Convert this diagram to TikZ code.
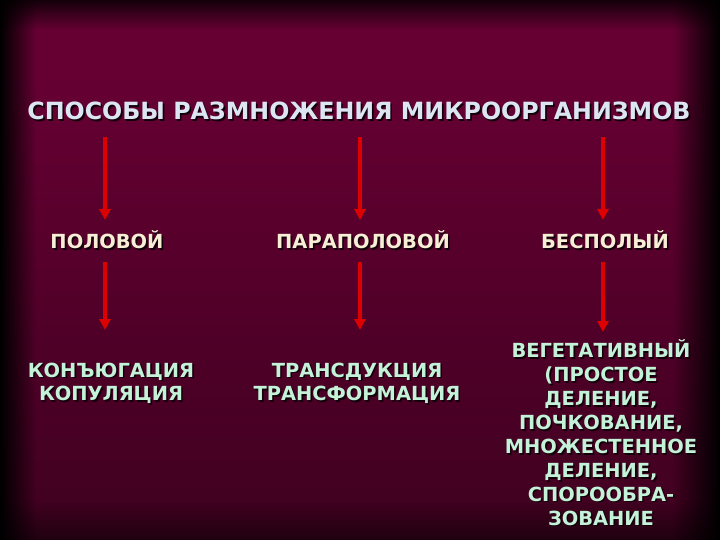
\documentclass[tikz,border=0pt]{standalone}
\usepackage{fontspec}
\setmainfont{DejaVu Sans}
\usetikzlibrary{arrows.meta,fadings}
\definecolor{bgtop}{HTML}{4E0028}
\definecolor{bgmid}{HTML}{660033}
\definecolor{bgmid2}{HTML}{4C0026}
\definecolor{bgbot}{HTML}{2A0514}
\definecolor{titlecol}{HTML}{DCE6F2}
\definecolor{cream}{HTML}{F8EED6}
\definecolor{mint}{HTML}{C4F2D8}
\definecolor{arrowred}{HTML}{DC0000}
\definecolor{shadowcol}{HTML}{14000A}
\pgfdeclareverticalshading{bgshade}{100bp}{color(0bp)=(bgbot); color(40bp)=(bgmid2); color(68bp)=(bgmid); color(88bp)=(bgmid); color(100bp)=(bgtop)}
\tikzset{
  titlefont/.style={font=\bfseries\fontsize{23.8}{28}\selectfont, inner sep=0pt},
  lvlfont/.style={font=\bfseries\fontsize{19.5}{24}\selectfont, inner sep=0pt, align=center},
  arr/.style={draw=arrowred, line width=3.2bp, -{Triangle[length=11bp,width=11bp]}},
}
% text with a dark drop shadow, inside one node
\newcommand\shtxt[2]{%
  \rlap{\hspace{1.6bp}\raisebox{-1.6bp}{\color{shadowcol}\begin{tabular}{@{}c@{}}#2\end{tabular}}}%
  {\color{#1}\begin{tabular}{@{}c@{}}#2\end{tabular}}}
\begin{document}
\begin{tikzpicture}[x=1bp,y=-1bp]
\useasboundingbox (0,0) rectangle (720,540);
\shade[shading=bgshade] (0,0) rectangle (720,540);
\fill[black, path fading=east] (0,0) rectangle (36,540);
\fill[black, path fading=west] (672,0) rectangle (720,540);
\fill[black, path fading=south, opacity=0.8] (0,0) rectangle (720,30);
\fill[black, path fading=north, opacity=0.5] (0,500) rectangle (720,540);

\node[titlefont] (title) at (359,115) {\shtxt{titlecol}{СПОСОБЫ РАЗМНОЖЕНИЯ МИКРООРГАНИЗМОВ}};

\node[lvlfont] (pol) at (107,244) {\shtxt{cream}{ПОЛОВОЙ}};
\node[lvlfont] (para) at (363,244) {\shtxt{cream}{ПАРАПОЛОВОЙ}};
\node[lvlfont] (bes) at (605,244) {\shtxt{cream}{БЕСПОЛЫЙ}};

\node[lvlfont] (kon) at (111,385) {\shtxt{mint}{КОНЪЮГАЦИЯ\\КОПУЛЯЦИЯ}};
\node[lvlfont] (tra) at (357,385) {\shtxt{mint}{ТРАНСДУКЦИЯ\\ТРАНСФОРМАЦИЯ}};
\node[lvlfont] (veg) at (601,437) {\shtxt{mint}{ВЕГЕТАТИВНЫЙ\\(ПРОСТОЕ\\ДЕЛЕНИЕ,\\ПОЧКОВАНИЕ,\\МНОЖЕСТЕННОЕ\\ДЕЛЕНИЕ,\\СПОРООБРА-\\ЗОВАНИЕ}};

\coordinate (a1s) at (105,137);
\coordinate (a1e) at (105,220);
\coordinate (a2s) at (360,137);
\coordinate (a2e) at (360,220);
\coordinate (a3s) at (603,137);
\coordinate (a3e) at (603,220);
\coordinate (b1s) at (105,262);
\coordinate (b1e) at (105,330);
\coordinate (b2s) at (360,262);
\coordinate (b2e) at (360,330);
\coordinate (b3s) at (603,262);
\coordinate (b3e) at (603,332);

\draw[arr] (a1s) -- (a1e);
\draw[arr] (a2s) -- (a2e);
\draw[arr] (a3s) -- (a3e);
\draw[arr] (b1s) -- (b1e);
\draw[arr] (b2s) -- (b2e);
\draw[arr] (b3s) -- (b3e);
\end{tikzpicture}
\end{document}
